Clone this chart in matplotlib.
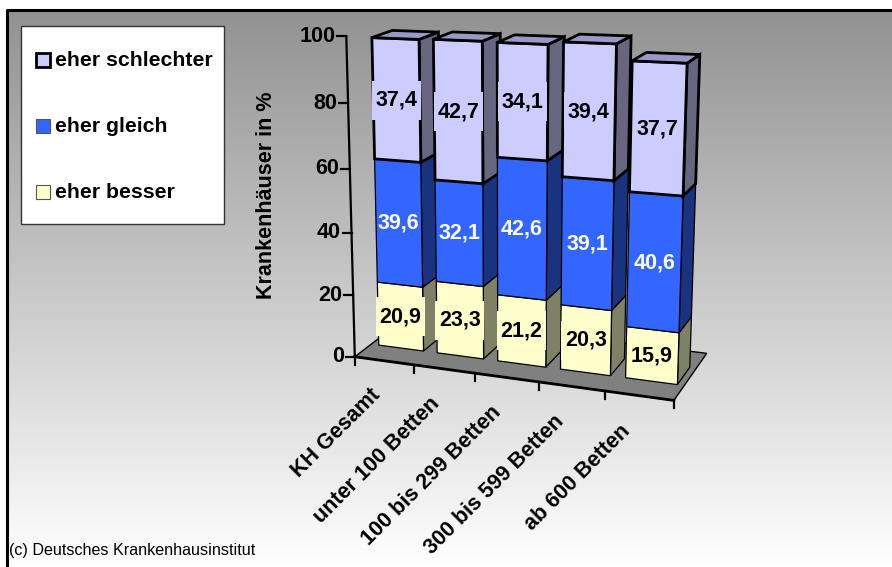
import numpy as np
import matplotlib
matplotlib.use('Agg')
import matplotlib.pyplot as plt
from matplotlib.patches import Polygon, Rectangle

plt.rcParams['font.family'] = ['Liberation Sans', 'DejaVu Sans']

categories = ['KH Gesamt', 'unter 100 Betten', '100 bis 299 Betten', '300 bis 599 Betten', 'ab 600 Betten']
besser = [20.9, 23.3, 21.2, 20.3, 15.9]
gleich = [39.6, 32.1, 42.6, 39.1, 40.6]
schlechter = [37.4, 42.7, 34.1, 39.4, 37.7]
yticks = [0, 20, 40, 60, 80, 100]

series = [
    ('eher besser', besser, '#FFFFCC', '#808066', '#BFBF99', 0.9, 'black'),
    ('eher gleich', gleich, '#3366FF', '#1A3380', '#264DBF', 0.9, 'white'),
    ('eher schlechter', schlechter, '#CCCCFF', '#666680', '#9999C8', 2.0, 'black'),
]

# perspective of the 3d box, fitted from points
# (category pos, depth, value) -> pixel
calib = [
    (0, 0, 0, 357, 357), (0, 0, 100, 345, 31), (5, 0, 0, 673, 401), (5, 1, 0, 707, 353),
    (1, 0, 0, 415, 365), (2, 0, 0, 476, 374), (3, 0, 0, 540, 383), (4, 0, 0, 606, 392),
    (0.15, 0.3, 0, 379, 345), (0.15, 0.3, 99.9, 370, 35),
    (0.9, 0.3, 0, 424, 350), (0.9, 0.3, 99.9, 418, 37),
    (0.9, 0.67, 0, 437, 338), (0.9, 0.67, 99.9, 440, 30),
    (0.13, 0.67, 99.9, 393, 26),
    (1.13, 0.3, 0, 438, 352), (1.13, 0.3, 98.1, 434, 38),
    (1.9, 0.3, 0, 485, 358), (1.9, 0.3, 98.1, 482, 40),
    (1.13, 0.67, 98.1, 455, 29), (1.9, 0.67, 98.1, 502, 32), (1.9, 0.67, 0, 497, 343),
    (2.13, 0.3, 0, 498, 360), (2.13, 0.3, 97.9, 497, 42),
    (2.9, 0.3, 0, 546, 367), (2.9, 0.3, 97.9, 547, 43),
    (2.13, 0.67, 97.9, 515, 33), (2.9, 0.67, 97.9, 566, 36), (2.9, 0.67, 0, 561, 350),
    (3.13, 0.3, 0, 561, 369), (3.13, 0.3, 98.8, 563, 42),
    (3.9, 0.3, 0, 610, 376), (3.9, 0.3, 98.8, 615, 44),
    (3.13, 0.67, 98.8, 580, 33), (3.9, 0.67, 98.8, 632, 36), (3.9, 0.67, 0, 626, 358),
    (4.13, 0.3, 0, 626, 377), (4.13, 0.3, 94.2, 632, 62),
    (4.9, 0.3, 0, 677, 385), (4.9, 0.3, 94.2, 685, 65),
    (4.13, 0.67, 94.2, 647, 52), (4.9, 0.67, 0, 690, 368), (4.9, 0.67, 94.2, 699, 55),
]
A = []
b = []
for x, d, v, px, py in calib:
    A.append([x, d, v, 1, 0, 0, 0, 0, -px * x, -px * d, -px * v])
    A.append([0, 0, 0, 0, x, d, v, 1, -py * x, -py * d, -py * v])
    b += [px, py]
p = np.linalg.lstsq(np.array(A, float), np.array(b, float), rcond=None)[0]
P = np.append(p, 1).reshape(3, 4)


def proj(x, d, v):
    u = P @ np.array([x, d, v, 1.0])
    return u[0] / u[2], u[1] / u[2]


fig = plt.figure(figsize=(8.92, 5.67), dpi=100)
ax = fig.add_axes([0, 0, 1, 1])

# background
grad = np.linspace(0, 1, 256).reshape(-1, 1)
ax.imshow(grad, extent=(7, 892, 567, 10), cmap=matplotlib.colors.LinearSegmentedColormap.from_list('g', ['#929292', '#FFFFFF']),
          aspect='auto', zorder=0)
ax.set_xlim(0, 892)
ax.set_ylim(567, 0)
ax.axis('off')
ax.plot([7, 7, 892], [567, 10, 10], color='black', lw=2.2, zorder=1)

# floor
ax.add_patch(Polygon([proj(0, 0, 0), proj(5, 0, 0), proj(5, 1, 0), proj(0, 1, 0)], fc='#808080', ec='black', lw=1.0, zorder=2))

# axes
x0, y0 = proj(0, 0, 0)
x1, y1 = proj(0, 0, 100)
ax.plot([x0, x1], [y0, y1], color='black', lw=1.6, zorder=2)
for t in yticks:
    tx, ty = proj(0, 0, t)
    ax.plot([tx - 9, tx], [ty, ty], color='black', lw=1.6, zorder=2)
    ax.text(tx - 11, ty, str(t), ha='right', va='center', fontsize=15.5, fontweight='bold', zorder=5)
x0, y0 = proj(0, 0, 0)
x1, y1 = proj(5, 0, 0)
ax.plot([x0, x1], [y0, y1], color='black', lw=2.0, zorder=2)
for i in range(len(categories) + 1):
    tx, ty = proj(i, 0, 0)
    ax.plot([tx, tx], [ty, ty + 8], color='black', lw=1.6, zorder=2)
for i, c in enumerate(categories):
    tx, ty = proj(i + 1, 0, 0)
    ax.text(tx - 44 - 2.5 * i, ty + 20, c, rotation=45, rotation_mode='anchor', ha='right', va='top',
            fontsize=15.5, fontweight='bold', zorder=5)

ax.text(267, 195, 'Krankenhäuser in %', rotation=90, ha='center', va='center', fontsize=15.5, fontweight='bold', zorder=5)

# bars
d0, d1 = 0.3, 0.67
z = 3
labels = []
for i in range(len(categories)):
    xa, xb = i + 0.13, i + 0.9
    base = 0
    for name, vals, front, side, top, lw, tc in series:
        v = vals[i]
        ax.add_patch(Polygon([proj(xb, d0, base), proj(xb, d1, base), proj(xb, d1, base + v), proj(xb, d0, base + v)],
                             fc=side, ec='black', lw=lw, zorder=z))
        ax.add_patch(Polygon([proj(xa, d0, base), proj(xb, d0, base), proj(xb, d0, base + v), proj(xa, d0, base + v)],
                             fc=front, ec='black', lw=lw, zorder=z))
        if name == 'eher schlechter':
            ax.add_patch(Polygon([proj(xa, d0, base + v), proj(xb, d0, base + v), proj(xb, d1, base + v), proj(xa, d1, base + v)],
                                 fc=top, ec='black', lw=lw, zorder=z))
        lx, ly = proj((xa + xb) / 2, d0, base + v / 2)
        labels.append((lx, ly, v, front, tc))
        base += v
    z += 0.1

# value labels sit on a box in the bar colour that cuts the bar outline
for lx, ly, v, front, tc in labels:
    if tc == 'black':
        ax.add_patch(Rectangle((lx - 24.5, ly - 19.5), 49, 39, fc=front, ec='none', zorder=5.5))
    ax.text(lx, ly, str(v).replace('.', ','), ha='center', va='center', color=tc, fontsize=15.5, fontweight='bold', zorder=6)

# legend
ax.add_patch(Rectangle((21, 26), 203, 198, fc='white', ec='#333333', lw=1.0, zorder=7))
leg_y = [60, 126, 191.5]
for (name, vals, front, side, top, lw, tc), ly in zip(series[::-1], leg_y):
    ax.add_patch(Rectangle((36, ly - 7), 14, 14, fc=front, ec='black' if lw > 1 else '#555555', lw=lw if lw > 1 else 0.8, zorder=8))
    ax.text(55, ly + 0.5, name, ha='left', va='center', fontsize=15.3, fontweight='bold', zorder=8)

ax.text(9, 551, '(c) Deutsches Krankenhausinstitut', ha='left', va='center', fontsize=11.6, zorder=8)

fig.savefig('out.png', dpi=100)
